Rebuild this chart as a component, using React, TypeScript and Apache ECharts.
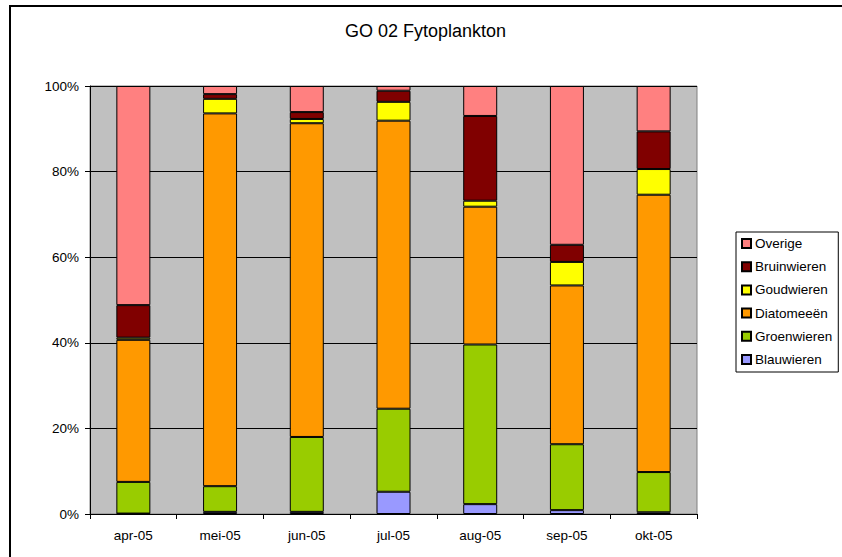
import React, { useEffect, useRef } from "react";
import * as echarts from "echarts";

const categories = ["apr-05", "mei-05", "jun-05", "jul-05", "aug-05", "sep-05", "okt-05"];
const yTicks = [0, 20, 40, 60, 80, 100];

const blauwieren = [0.1, 0.5, 0.5, 5.2, 2.3, 0.9, 0.4];
const groenwieren = [7.4, 6.0, 17.5, 19.4, 37.3, 15.4, 9.4];
const diatomeeen = [33.2, 87.1, 73.3, 67.3, 32.2, 37.1, 64.8];
const goudwieren = [0.5, 3.4, 1.0, 4.4, 1.4, 5.5, 6.0];
const bruinwieren = [7.6, 1.1, 1.6, 2.6, 19.8, 4.0, 8.8];
const overige = [51.2, 1.9, 6.1, 1.1, 7.0, 37.1, 10.6];

const seriesNames = ["Blauwieren", "Groenwieren", "Diatomeeën", "Goudwieren", "Bruinwieren", "Overige"];
const seriesValues = [blauwieren, groenwieren, diatomeeen, goudwieren, bruinwieren, overige];
const seriesColors = ["#9999FF", "#99CC00", "#FF9900", "#FFFF00", "#800000", "#FF8080"];

const FONT = "Liberation Sans, Arial, sans-serif";

export default function App() {
  const ref = useRef<HTMLDivElement>(null);
  useEffect(() => {
    if (!ref.current) return;
    const chart = echarts.init(ref.current, null, { renderer: "svg" });
    chart.setOption({
      animation: false,
      backgroundColor: "#FFFFFF",
      textStyle: { fontFamily: FONT, color: "#000" },
      title: {
        text: "GO 02 Fytoplankton",
        left: 345,
        top: 22,
        padding: 0,
        textStyle: { fontFamily: FONT, fontSize: 18, fontWeight: "normal", color: "#000" },
      },
      graphic: [
        {
          type: "rect",
          shape: { x: 10, y: 6, width: 1000, height: 1000 },
          style: { fill: "none", stroke: "#000", lineWidth: 2 },
          silent: true,
        },
      ],
      legend: {
        orient: "vertical",
        left: 736,
        top: 232,
        data: seriesNames.slice().reverse(),
        itemWidth: 9,
        itemHeight: 9,
        itemGap: 9.2,
        padding: [4.5, 6, 5.5, 5],
        borderColor: "#000",
        borderWidth: 1,
        backgroundColor: "#FFFFFF",
        icon: "rect",
        textStyle: { fontFamily: FONT, fontSize: 13.5, color: "#000", padding: [0, 0, 0, -1] },
      },
      grid: {
        left: 90,
        top: 86,
        right: 145,
        bottom: 43,
        show: true,
        backgroundColor: "#C0C0C0",
        borderColor: "#808080",
        borderWidth: 1,
      },
      xAxis: {
        type: "category",
        data: categories,
        boundaryGap: true,
        axisLine: { show: true, lineStyle: { color: "#000", width: 1 } },
        axisTick: { show: true, alignWithLabel: false, length: 5, lineStyle: { color: "#000" } },
        axisLabel: { fontFamily: FONT, fontSize: 13.5, color: "#000", margin: 14 },
        splitLine: { show: false },
      },
      yAxis: {
        type: "value",
        min: yTicks[0],
        max: yTicks[yTicks.length - 1],
        interval: 20,
        axisLine: { show: true, lineStyle: { color: "#000", width: 1 } },
        axisTick: { show: true, length: 5, lineStyle: { color: "#000" } },
        axisLabel: { fontFamily: FONT, fontSize: 13.5, color: "#000", margin: 11, formatter: "{value}%" },
        splitLine: { show: true, lineStyle: { color: "#000", width: 1 } },
      },
      series: seriesNames.map((name, i) => ({
        name,
        type: "bar",
        stack: "total",
        barWidth: 34,
        data: seriesValues[i],
        itemStyle: { color: seriesColors[i], borderColor: "#000", borderWidth: 1 },
      })),
    });
    return () => chart.dispose();
  }, []);
  return (
    <div
      ref={ref}
      style={{ position: "fixed", left: 0, top: 0, width: 842, height: 557 }}
    />
  );
}
